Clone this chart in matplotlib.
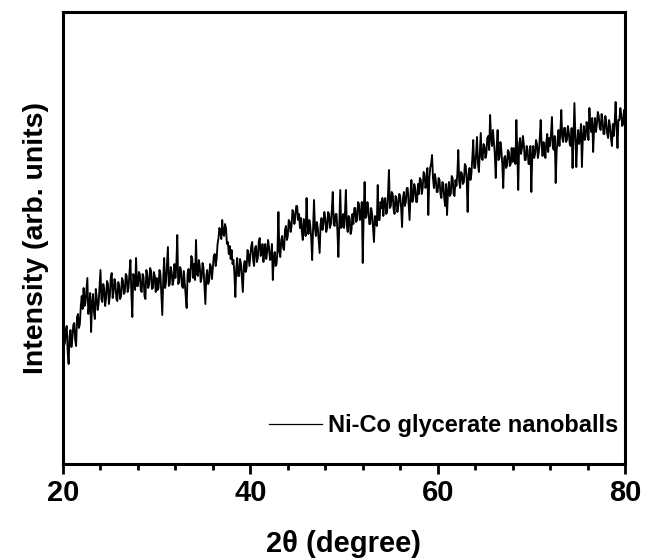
import numpy as np
import matplotlib
matplotlib.use("Agg")
import matplotlib.pyplot as plt
from matplotlib import font_manager as fm
from matplotlib.ticker import MultipleLocator

# 2theta grid (degrees, 0.1 step) and intensity values (arb. units)
two_theta = np.round(np.arange(20.0, 80.0001, 0.1), 1)
intensity = [
    132, 118, 121, 134, 138, 112, 100, 128, 134, 117, 126, 139, 141, 124, 118, 147, 150, 136, 140, 158,
    168, 155, 176, 158, 161, 174, 186, 150, 158, 171, 132, 160, 170, 152, 145, 175, 167, 154, 160, 178,
    194, 165, 162, 180, 175, 158, 166, 183, 180, 160, 168, 186, 191, 166, 172, 185, 180, 165, 163, 182,
    178, 165, 168, 186, 183, 170, 172, 190, 188, 172, 176, 192, 204, 170, 147, 190, 186, 174, 206, 178,
    178, 192, 190, 174, 172, 190, 187, 168, 165, 194, 189, 176, 180, 196, 193, 175, 176, 192, 188, 172,
    186, 174, 176, 194, 190, 170, 149, 185, 206, 176, 182, 200, 217, 178, 180, 197, 192, 179, 184, 200,
    186, 198, 229, 180, 182, 197, 194, 178, 176, 193, 180, 168, 156, 190, 195, 182, 188, 208, 205, 186,
    200, 184, 224, 190, 188, 204, 198, 182, 186, 201, 196, 178, 160, 188, 194, 180, 183, 200, 197, 185,
    196, 208, 210, 198, 205, 220, 226, 236, 232, 225, 244, 230, 228, 240, 236, 220, 222, 210, 218, 205,
    214, 200, 204, 190, 167, 196, 206, 188, 188, 205, 200, 186, 172, 198, 203, 192, 196, 214, 210, 198,
    208, 218, 222, 204, 198, 216, 218, 202, 206, 222, 226, 208, 210, 220, 202, 214, 220, 205, 212, 224,
    216, 204, 205, 220, 184, 206, 212, 198, 200, 214, 252, 212, 207, 224, 228, 216, 214, 234, 238, 224,
    228, 244, 242, 232, 238, 254, 252, 240, 246, 258, 258, 244, 250, 236, 246, 232, 224, 245, 240, 228,
    266, 240, 230, 244, 238, 226, 204, 236, 264, 236, 228, 242, 236, 224, 211, 240, 246, 234, 240, 252,
    246, 232, 236, 252, 250, 236, 240, 254, 272, 240, 238, 250, 250, 232, 207, 242, 274, 236, 238, 250,
    236, 250, 274, 238, 232, 248, 246, 230, 234, 250, 240, 256, 256, 242, 244, 262, 260, 244, 248, 262,
    201, 250, 282, 246, 248, 262, 256, 240, 240, 256, 250, 236, 222, 248, 246, 238, 279, 244, 244, 262,
    256, 266, 248, 262, 266, 250, 252, 270, 294, 256, 258, 272, 270, 254, 250, 268, 266, 252, 258, 270,
    268, 256, 237, 266, 272, 258, 262, 276, 276, 260, 244, 270, 284, 262, 266, 280, 276, 262, 262, 280,
    270, 286, 284, 270, 276, 292, 290, 276, 282, 296, 249, 284, 296, 300, 309, 286, 276, 290, 284, 272,
    272, 286, 284, 270, 266, 282, 280, 266, 258, 280, 249, 272, 282, 268, 270, 288, 286, 270, 268, 284,
    278, 290, 314, 282, 276, 292, 290, 280, 282, 300, 298, 284, 252, 290, 296, 284, 290, 306, 324, 296,
    296, 310, 327, 300, 292, 312, 331, 306, 304, 320, 318, 306, 310, 326, 328, 314, 349, 326, 318, 334,
    322, 310, 286, 316, 334, 304, 306, 322, 314, 300, 276, 306, 308, 296, 298, 314, 312, 298, 300, 316,
    302, 316, 312, 300, 344, 312, 274, 320, 326, 310, 316, 328, 320, 304, 304, 318, 314, 300, 300, 318,
    272, 308, 318, 306, 310, 324, 320, 306, 312, 326, 344, 318, 308, 322, 316, 306, 322, 330, 312, 326,
    318, 330, 347, 316, 314, 328, 281, 312, 324, 334, 318, 332, 354, 326, 322, 336, 336, 322, 324, 338,
    332, 320, 318, 336, 296, 326, 361, 330, 297, 322, 334, 320, 326, 340, 297, 326, 338, 324, 328, 342,
    336, 324, 356, 338, 332, 346, 312, 336, 346, 332, 340, 352, 348, 336, 334, 350, 344, 330, 330, 348,
    342, 330, 326, 344, 338, 326, 318, 340, 328, 342, 362, 336, 316, 344, 344, 356, 350, 338, 340, 354,
    348,
]
series_label = "Ni-Co glycerate nanoballs"
x_ticks = [20, 40, 60, 80]

names = {f.name for f in fm.fontManager.ttflist}
narrow = "Liberation Sans Narrow" if "Liberation Sans Narrow" in names else "Liberation Sans"
regular = "Liberation Sans" if "Liberation Sans" in names else "DejaVu Sans"

fig = plt.figure(figsize=(6.48, 5.60), dpi=100)
ax = fig.add_axes([63 / 648, 1 - 464 / 560, (625 - 63) / 648, (464 - 12) / 560])

ax.plot(two_theta, intensity, color="black", linewidth=1.35, label=series_label)

ax.set_xlim(20, 80)
ax.set_ylim(0, 452)
ax.set_xticks(x_ticks)
ax.xaxis.set_minor_locator(MultipleLocator(4))
ax.set_yticks([])

for s in ax.spines.values():
    s.set_linewidth(2.2)

ax.tick_params(axis="x", which="major", direction="out", length=7, width=2.0, pad=4,
               top=False)
ax.tick_params(axis="x", which="minor", direction="out", length=4.5, width=2.0, top=False)
for lab in ax.get_xticklabels():
    lab.set_fontfamily(narrow)
    lab.set_fontweight("bold")
    lab.set_fontsize(24 if narrow.endswith("Narrow") else 21)

ax.set_xlabel("2θ (degree)", fontfamily=regular, fontweight="bold", fontsize=21, labelpad=16)
ax.set_ylabel("Intensity (arb. units)", fontfamily=regular, fontweight="bold", fontsize=20.5,
              labelpad=10)

leg = ax.legend(loc="lower right", bbox_to_anchor=(0.988, 0.06), frameon=False,
                borderpad=0, borderaxespad=0, handlelength=2.25, handletextpad=0.25,
                prop={"family": regular, "weight": "bold", "size": 17})
for h in leg.get_lines():
    h.set_linewidth(0.9)

fig.savefig("out.png", dpi=100)
